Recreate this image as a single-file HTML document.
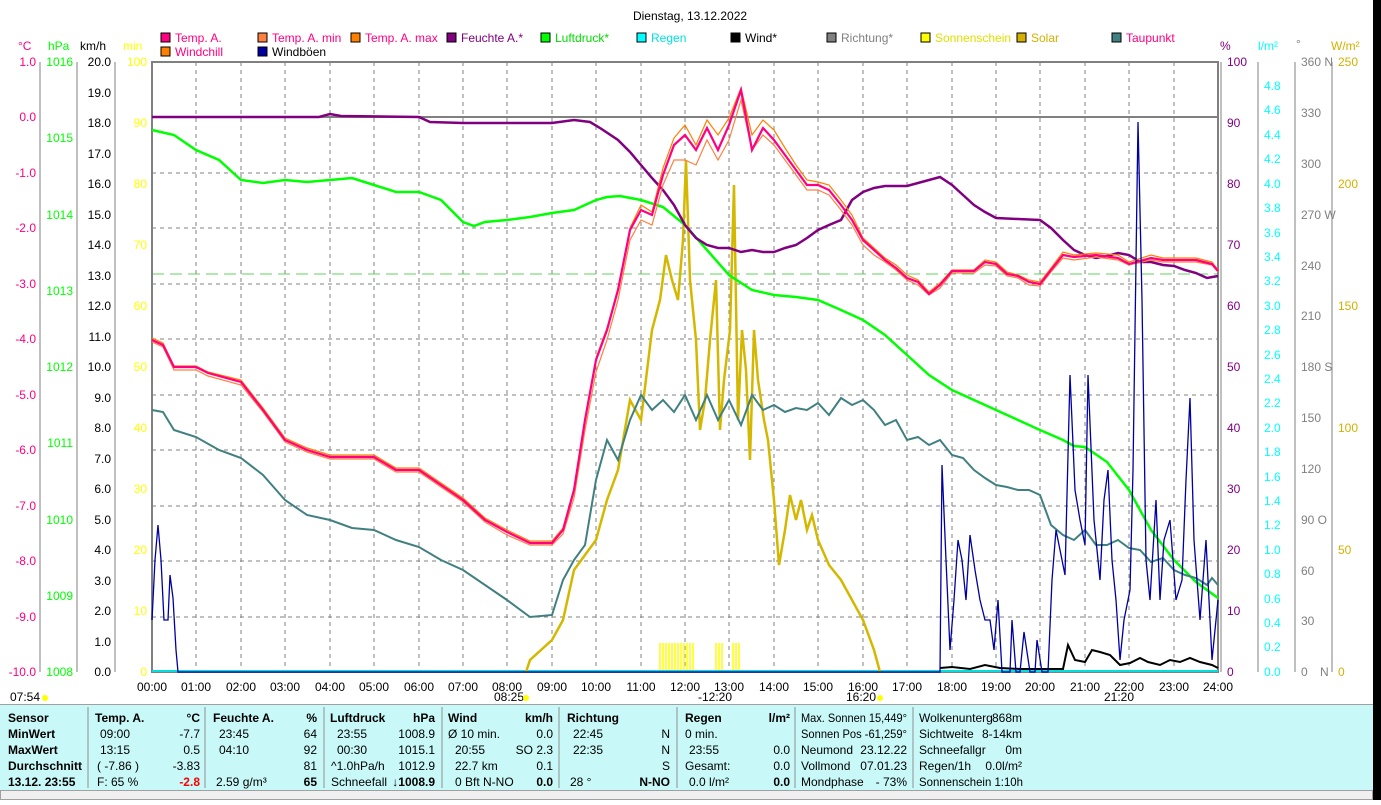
<!DOCTYPE html>
<html><head><meta charset="utf-8"><style>
body{margin:0;width:1381px;height:800px;background:#fff;overflow:hidden;font-family:"Liberation Sans",sans-serif;}
svg text{font-family:"Liberation Sans",sans-serif;font-size:12px;}
</style></head><body>
<svg width="1381" height="800" xmlns="http://www.w3.org/2000/svg">
<rect x="1373" y="0" width="8" height="800" fill="#000"/>
<text x="690" y="20" font-size="14" text-anchor="middle" fill="#000">Dienstag, 13.12.2022</text>
<g font-size="11">
<rect x="161" y="33" width="9" height="9" fill="#ff0080" stroke="#000"/><text x="175" y="42" fill="#ff0080">Temp. A.</text>
<rect x="258" y="33" width="9" height="9" fill="#ff8040" stroke="#000"/><text x="272" y="42" fill="#ff0080">Temp. A. min</text>
<rect x="351" y="33" width="9" height="9" fill="#ff8000" stroke="#000"/><text x="365" y="42" fill="#ff0080">Temp. A. max</text>
<rect x="447" y="33" width="9" height="9" fill="#800080" stroke="#000"/><text x="461" y="42" fill="#800080">Feuchte A.*</text>
<rect x="541" y="33" width="9" height="9" fill="#00ff00" stroke="#000"/><text x="555" y="42" fill="#00dd00">Luftdruck*</text>
<rect x="637" y="33" width="9" height="9" fill="#00ffff" stroke="#000"/><text x="651" y="42" fill="#00e0e0">Regen</text>
<rect x="731" y="33" width="9" height="9" fill="#000" stroke="#000"/><text x="745" y="42" fill="#000">Wind*</text>
<rect x="827" y="33" width="9" height="9" fill="#808080" stroke="#000"/><text x="841" y="42" fill="#808080">Richtung*</text>
<rect x="921" y="33" width="9" height="9" fill="#ffff00" stroke="#000"/><text x="935" y="42" fill="#e0e000">Sonnenschein</text>
<rect x="1017" y="33" width="9" height="9" fill="#d4b000" stroke="#000"/><text x="1031" y="42" fill="#d4b000">Solar</text>
<rect x="1112" y="33" width="9" height="9" fill="#408080" stroke="#000"/><text x="1126" y="42" fill="#ff0080">Taupunkt</text>
<rect x="161" y="47" width="9" height="9" fill="#ff8000" stroke="#000"/><text x="175" y="56" fill="#ff0080">Windchill</text>
<rect x="258" y="47" width="9" height="9" fill="#0000a0" stroke="#000"/><text x="272" y="56" fill="#000">Windböen</text>
</g>
<text x="18" y="50" fill="#ff0080">°C</text><text x="48" y="50" fill="#00ff00">hPa</text><text x="80" y="50" fill="#000">km/h</text><text x="123" y="50" fill="#ffff00">min</text>
<text x="1220" y="50" fill="#800080">%</text><text x="1258" y="50" fill="#00ffff">l/m²</text><text x="1296" y="48" fill="#808080">°</text><text x="1331" y="50" fill="#d4b000">W/m²</text>
<g stroke="#808080" stroke-dasharray="4,4" stroke-width="1">
<path d="M196 62V672M241 62V672M285 62V672M330 62V672M374 62V672M419 62V672M463 62V672M507 62V672M552 62V672M596 62V672M641 62V672M685 62V672M729 62V672M774 62V672M818 62V672M863 62V672M907 62V672M952 62V672M996 62V672M1040 62V672M1085 62V672M1129 62V672M1174 62V672"/>
<path d="M152 173H1218M152 228H1218M152 284H1218M152 339H1218M152 395H1218M152 450H1218M152 506H1218M152 561H1218M152 617H1218"/>
</g>
<path d="M152 274H1218" stroke="#60d060" stroke-dasharray="12,6"/>
<path d="M152 117H1218" stroke="#808080" stroke-width="2"/>
<rect x="152" y="62" width="1066" height="610" fill="none" stroke="#808080" stroke-width="2"/>
<g stroke="#808080"><path d="M40 62V672M77 62V672M115 62V672M1221 62V672M1258 62V672M1295 62V672M1332 62V672"/></g>
<g font-size="11" text-anchor="end">
<g fill="#ff0080"><text x="36" y="66">1.0</text><text x="36" y="121">0.0</text><text x="36" y="177">-1.0</text><text x="36" y="232">-2.0</text><text x="36" y="288">-3.0</text><text x="36" y="343">-4.0</text><text x="36" y="399">-5.0</text><text x="36" y="454">-6.0</text><text x="36" y="510">-7.0</text><text x="36" y="565">-8.0</text><text x="36" y="621">-9.0</text><text x="36" y="676">-10.0</text></g>
<g fill="#00ff00"><text x="73" y="66">1016</text><text x="73" y="142">1015</text><text x="73" y="219">1014</text><text x="73" y="295">1013</text><text x="73" y="371">1012</text><text x="73" y="447">1011</text><text x="73" y="524">1010</text><text x="73" y="600">1009</text><text x="73" y="676">1008</text></g>
<g fill="#000"><text x="111" y="66">20.0</text><text x="111" y="97">19.0</text><text x="111" y="127">18.0</text><text x="111" y="158">17.0</text><text x="111" y="188">16.0</text><text x="111" y="219">15.0</text><text x="111" y="249">14.0</text><text x="111" y="280">13.0</text><text x="111" y="310">12.0</text><text x="111" y="341">11.0</text><text x="111" y="371">10.0</text><text x="111" y="402">9.0</text><text x="111" y="432">8.0</text><text x="111" y="463">7.0</text><text x="111" y="493">6.0</text><text x="111" y="524">5.0</text><text x="111" y="554">4.0</text><text x="111" y="585">3.0</text><text x="111" y="615">2.0</text><text x="111" y="646">1.0</text><text x="111" y="676">0.0</text></g>
<g fill="#ffff00"><text x="147" y="66">100</text><text x="147" y="127">90</text><text x="147" y="188">80</text><text x="147" y="249">70</text><text x="147" y="310">60</text><text x="147" y="371">50</text><text x="147" y="432">40</text><text x="147" y="493">30</text><text x="147" y="554">20</text><text x="147" y="615">10</text><text x="147" y="676">0</text></g>
</g>
<g font-size="11">
<g fill="#800080"><text x="1227" y="66">100</text><text x="1227" y="127">90</text><text x="1227" y="188">80</text><text x="1227" y="249">70</text><text x="1227" y="310">60</text><text x="1227" y="371">50</text><text x="1227" y="432">40</text><text x="1227" y="493">30</text><text x="1227" y="554">20</text><text x="1227" y="615">10</text><text x="1227" y="676">0</text></g>
<g fill="#00ffff"><text x="1264" y="90">4.8</text><text x="1264" y="114">4.6</text><text x="1264" y="139">4.4</text><text x="1264" y="163">4.2</text><text x="1264" y="188">4.0</text><text x="1264" y="212">3.8</text><text x="1264" y="237">3.6</text><text x="1264" y="261">3.4</text><text x="1264" y="285">3.2</text><text x="1264" y="310">3.0</text><text x="1264" y="334">2.8</text><text x="1264" y="359">2.6</text><text x="1264" y="383">2.4</text><text x="1264" y="407">2.2</text><text x="1264" y="432">2.0</text><text x="1264" y="456">1.8</text><text x="1264" y="481">1.6</text><text x="1264" y="505">1.4</text><text x="1264" y="529">1.2</text><text x="1264" y="554">1.0</text><text x="1264" y="578">0.8</text><text x="1264" y="603">0.6</text><text x="1264" y="627">0.4</text><text x="1264" y="651">0.2</text><text x="1264" y="676">0.0</text></g>
<g fill="#808080"><text x="1301" y="66">360 N</text><text x="1301" y="117">330</text><text x="1301" y="168">300</text><text x="1301" y="219">270 W</text><text x="1301" y="270">240</text><text x="1301" y="320">210</text><text x="1301" y="371">180 S</text><text x="1301" y="422">150</text><text x="1301" y="473">120</text><text x="1301" y="524">90 O</text><text x="1301" y="575">60</text><text x="1301" y="625">30</text><text x="1301" y="676">0</text><text x="1320" y="676">N</text></g>
<g fill="#d4b000"><text x="1338" y="66">250</text><text x="1338" y="188">200</text><text x="1338" y="310">150</text><text x="1338" y="432">100</text><text x="1338" y="554">50</text><text x="1338" y="676">0</text></g>
</g>
<g font-size="11" text-anchor="middle" fill="#000">
<text x="152" y="691">00:00</text><text x="196" y="691">01:00</text><text x="241" y="691">02:00</text><text x="285" y="691">03:00</text><text x="330" y="691">04:00</text><text x="374" y="691">05:00</text><text x="419" y="691">06:00</text><text x="463" y="691">07:00</text><text x="507" y="691">08:00</text><text x="552" y="691">09:00</text><text x="596" y="691">10:00</text><text x="641" y="691">11:00</text><text x="685" y="691">12:00</text><text x="729" y="691">13:00</text><text x="774" y="691">14:00</text><text x="818" y="691">15:00</text><text x="863" y="691">16:00</text><text x="907" y="691">17:00</text><text x="952" y="691">18:00</text><text x="996" y="691">19:00</text><text x="1040" y="691">20:00</text><text x="1085" y="691">21:00</text><text x="1129" y="691">22:00</text><text x="1174" y="691">23:00</text><text x="1218" y="691">24:00</text>
</g>
<g font-size="11" fill="#000"><text x="10" y="701">07:54</text><circle cx="45" cy="698" r="3" fill="#ff0"/><text x="494" y="701">08:25</text><circle cx="526" cy="698" r="3" fill="#ff0"/><text x="698" y="701">-12:20</text><text x="846" y="701">16:20</text><circle cx="880" cy="698" r="3" fill="#ff0"/><text x="1104" y="701">21:20</text></g>
<path d="M660 643V672M663 643V672M666 643V672M669 643V672M672 643V672M675 643V672M678 643V672M681 643V672M684 643V672M687 643V672M690 643V672M693 643V672M716 643V672M719 643V672M722 643V672M733 643V672M736 643V672M739 643V672" stroke="#ffff00" stroke-width="1.5"/>
<path d="M152 671H1218" stroke="#00e0e0" stroke-width="2"/>
<polyline fill="none" stroke="#d4b800" stroke-width="2.5" points="526,672 530,660 552,640 563,620 574,570 585,555 596,540 607,500 618,470 630,400 641,420 652,330 660,300 666,255 672,280 678,300 683,240 686,160 690,280 696,340 700,430 705,400 710,340 716,280 720,430 724,380 730,330 734,185 738,420 742,330 746,370 750,460 754,330 758,380 764,420 768,440 774,500 779,565 785,530 790,495 796,520 801,500 807,530 812,515 818,540 829,565 841,580 852,600 863,620 874,650 880,672"/>
<polyline fill="none" stroke="#00ff00" stroke-width="2.5" points="152,130 174,135 196,150 219,160 241,180 263,183 285,180 307,182 330,180 352,178 374,185 396,192 419,192 441,200 463,222 474,226 485,222 507,220 530,217 552,213 574,210 596,200 607,197 620,196 641,200 663,207 685,225 707,250 729,275 752,290 774,295 796,297 818,300 841,310 863,320 885,335 907,355 929,375 952,390 974,400 996,410 1018,420 1040,430 1063,440 1074,446 1085,447 1107,462 1129,490 1151,530 1174,560 1196,582 1218,598"/>
<polyline fill="none" stroke="#408080" stroke-width="2" points="152,410 163,412 174,430 196,437 219,450 241,458 263,475 285,500 307,515 330,520 352,528 374,530 396,540 419,547 441,560 463,570 485,585 507,600 530,617 552,615 563,580 574,560 585,545 596,480 607,440 618,460 630,420 641,395 652,410 663,400 674,412 685,395 696,420 707,395 718,420 729,400 741,425 752,395 763,410 774,405 785,412 796,408 807,410 818,403 829,415 841,398 852,405 863,400 874,410 885,425 896,420 907,440 918,437 929,445 940,440 952,455 963,458 974,470 985,478 996,485 1007,487 1018,490 1029,490 1040,495 1051,525 1063,535 1074,540 1085,530 1096,545 1107,545 1118,540 1129,548 1140,550 1151,562 1163,558 1174,570 1185,575 1196,578 1207,585 1212,578 1218,585"/>
<polyline fill="none" stroke="#800080" stroke-width="2.5" points="152,117 319,117 330,114 341,116 419,117 430,122 463,123 552,123 574,120 590,122 600,128 618,140 630,152 641,165 652,178 663,190 674,205 685,225 696,238 707,245 718,248 729,248 741,252 752,250 763,252 774,252 785,248 796,245 807,238 818,230 829,225 841,220 852,200 863,192 874,188 885,186 907,186 918,183 929,180 940,177 952,185 963,195 974,205 985,212 996,218 1018,219 1040,220 1051,228 1063,240 1074,250 1085,255 1096,258 1107,256 1118,253 1129,255 1140,262 1151,262 1163,265 1174,266 1185,270 1196,273 1207,278 1218,276"/>
<polyline fill="none" stroke="#ff8000" stroke-width="1.2" points="152,338 163,343 174,366 196,366 208,372 241,380 263,408 285,438 307,448 330,455 374,455 396,468 419,468 441,483 463,498 485,518 507,530 530,541 552,541 563,528 574,488 585,418 596,358 607,328 618,288 630,228 641,205 652,212 663,168 674,138 685,125 696,145 707,120 718,135 729,118 741,88 752,135 763,120 774,130 785,148 796,165 807,180 818,182 829,185 841,200 852,215 863,238 874,248 885,258 896,265 907,275 918,280 929,292 940,283 952,270 974,270 985,260 996,262 1007,272 1018,275 1029,280 1040,282 1051,268 1063,252 1074,255 1096,253 1118,255 1129,262 1151,255 1163,258 1196,258 1212,262 1218,270"/>
<polyline fill="none" stroke="#ff8040" stroke-width="1.2" points="152,342 163,347 174,370 196,370 208,376 241,385 263,412 285,442 307,452 330,459 374,459 396,472 419,472 441,487 463,502 485,522 507,535 530,545 552,545 563,534 574,498 585,430 596,372 607,340 618,300 630,240 641,220 652,225 663,185 674,160 685,160 696,165 707,140 718,160 729,140 741,100 752,150 763,135 774,145 785,160 796,175 807,190 818,190 829,195 841,210 852,225 863,245 874,255 885,262 896,270 907,280 918,285 929,295 940,288 952,273 974,273 985,265 996,266 1007,276 1018,278 1029,285 1040,286 1051,272 1063,258 1074,260 1096,257 1118,260 1129,265 1151,260 1163,262 1196,262 1212,265 1218,272"/>
<polyline fill="none" stroke="#ff0080" stroke-width="2.2" points="152,340 163,345 174,367 196,367 208,373 241,382 263,410 285,440 307,450 330,457 374,457 396,470 419,470 441,485 463,500 485,520 507,532 530,543 552,543 563,530 574,490 585,420 596,360 607,330 618,290 630,230 641,210 652,215 663,175 674,145 685,135 696,150 707,128 718,150 729,125 741,90 752,150 763,128 774,140 785,155 796,170 807,185 818,185 829,190 841,205 852,220 863,240 874,250 885,260 896,268 907,278 918,282 929,294 940,285 952,271 974,271 985,262 996,264 1007,274 1018,276 1029,282 1040,284 1051,270 1063,255 1074,257 1096,255 1118,258 1129,264 1151,258 1163,260 1196,260 1212,264 1218,271"/>
<polyline fill="none" stroke="#000" stroke-width="2" points="940,668 952,667 970,669 985,665 1000,668 1020,669 1040,669 1063,669 1068,645 1075,660 1085,662 1092,650 1100,652 1110,655 1120,665 1130,663 1140,658 1148,662 1160,665 1170,660 1180,662 1190,658 1200,662 1212,665 1218,668"/>
<polyline fill="none" stroke="#0000a0" stroke-width="1.3" points="152,620 155,560 158,525 161,560 164,620 168,620 170,575 173,598 176,650 178,672 940,672 942,465 946,560 950,650 954,600 958,540 962,560 966,600 970,535 975,570 980,600 985,620 990,620 994,650 998,600 1002,672 1010,672 1012,620 1016,672 1020,672 1024,632 1030,672 1035,672 1037,640 1042,672 1048,672 1052,580 1056,530 1060,550 1065,575 1070,375 1075,490 1080,520 1085,545 1088,375 1094,520 1100,580 1104,500 1108,470 1112,560 1116,600 1120,660 1124,620 1130,590 1133,470 1138,122 1142,300 1146,560 1150,600 1156,500 1160,600 1164,540 1170,520 1176,600 1182,580 1186,480 1190,398 1194,540 1200,620 1206,540 1212,660 1216,620 1218,600"/>
<rect x="0" y="705" width="1373" height="85" fill="#c8f8f8"/>
<rect x="0" y="704" width="1373" height="1" fill="#a0a0a0"/>
<rect x="0.5" y="790.5" width="1372" height="9" fill="#f0f0f0" stroke="#a0a0a0"/>
<g stroke="#909090"><path d="M88 707V788M205 707V788M324 707V788M442 707V788M559 707V788M677 707V788M795 707V788M913 707V788"/></g>
<g font-size="11" fill="#000">
<g font-weight="bold"><text x="8" y="722">Sensor</text><text x="8" y="738">MinWert</text><text x="8" y="754">MaxWert</text><text x="8" y="770">Durchschnitt</text><text x="8" y="786">13.12. 23:55</text>
<text x="95" y="722">Temp. A.</text><text x="200" y="722" text-anchor="end">°C</text>
<text x="213" y="722">Feuchte A.</text><text x="317" y="722" text-anchor="end">%</text>
<text x="330" y="722">Luftdruck</text><text x="435" y="722" text-anchor="end">hPa</text>
<text x="448" y="722">Wind</text><text x="553" y="722" text-anchor="end">km/h</text>
<text x="567" y="722">Richtung</text>
<text x="685" y="722">Regen</text><text x="790" y="722" text-anchor="end">l/m²</text>
<text x="200" y="786" text-anchor="end" fill="#ff0000">-2.8</text><text x="317" y="786" text-anchor="end">65</text><text x="435" y="786" text-anchor="end">↓1008.9</text><text x="553" y="786" text-anchor="end">0.0</text><text x="670" y="786" text-anchor="end">N-NO</text><text x="790" y="786" text-anchor="end">0.0</text></g>
<text x="100" y="738">09:00</text><text x="200" y="738" text-anchor="end">-7.7</text><text x="100" y="754">13:15</text><text x="200" y="754" text-anchor="end">0.5</text><text x="97" y="770">( -7.86 )</text><text x="200" y="770" text-anchor="end">-3.83</text><text x="97" y="786">F: 65 %</text>
<text x="219" y="738">23:45</text><text x="317" y="738" text-anchor="end">64</text><text x="219" y="754">04:10</text><text x="317" y="754" text-anchor="end">92</text><text x="317" y="770" text-anchor="end">81</text><text x="216" y="786">2.59 g/m³</text>
<text x="337" y="738">23:55</text><text x="435" y="738" text-anchor="end">1008.9</text><text x="337" y="754">00:30</text><text x="435" y="754" text-anchor="end">1015.1</text><text x="331" y="770">^1.0hPa/h</text><text x="435" y="770" text-anchor="end">1012.9</text><text x="331" y="786">Schneefall</text>
<text x="448" y="738">Ø 10 min.</text><text x="553" y="738" text-anchor="end">0.0</text><text x="455" y="754">20:55</text><text x="553" y="754" text-anchor="end">SO 2.3</text><text x="455" y="770">22.7 km</text><text x="553" y="770" text-anchor="end">0.1</text><text x="455" y="786">0 Bft N-NO</text>
<text x="573" y="738">22:45</text><text x="670" y="738" text-anchor="end">N</text><text x="573" y="754">22:35</text><text x="670" y="754" text-anchor="end">N</text><text x="670" y="770" text-anchor="end">S</text><text x="570" y="786">28 °</text>
<text x="685" y="738">0 min.</text><text x="689" y="754">23:55</text><text x="790" y="754" text-anchor="end">0.0</text><text x="685" y="770">Gesamt:</text><text x="790" y="770" text-anchor="end">0.0</text><text x="689" y="786">0.0 l/m²</text>
<g font-size="10.5">
<text x="801" y="722" textLength="106" lengthAdjust="spacingAndGlyphs">Max. Sonnen 15,449°</text><text x="801" y="738" textLength="106" lengthAdjust="spacingAndGlyphs">Sonnen Pos -61,259°</text><text x="801" y="754">Neumond</text><text x="907" y="754" text-anchor="end">23.12.22</text><text x="801" y="770">Vollmond</text><text x="907" y="770" text-anchor="end">07.01.23</text><text x="801" y="786">Mondphase</text><text x="907" y="786" text-anchor="end">- 73%</text>
<text x="919" y="722">Wolkenunterg</text><text x="1022" y="722" text-anchor="end">868m</text><text x="919" y="738">Sichtweite</text><text x="1022" y="738" text-anchor="end">8-14km</text><text x="919" y="754">Schneefallgr</text><text x="1022" y="754" text-anchor="end">0m</text><text x="919" y="770">Regen/1h</text><text x="1022" y="770" text-anchor="end">0.0l/m²</text><text x="919" y="786" textLength="104" lengthAdjust="spacingAndGlyphs">Sonnenschein 1:10h</text>
</g>
</g>
</svg>
</body></html>
